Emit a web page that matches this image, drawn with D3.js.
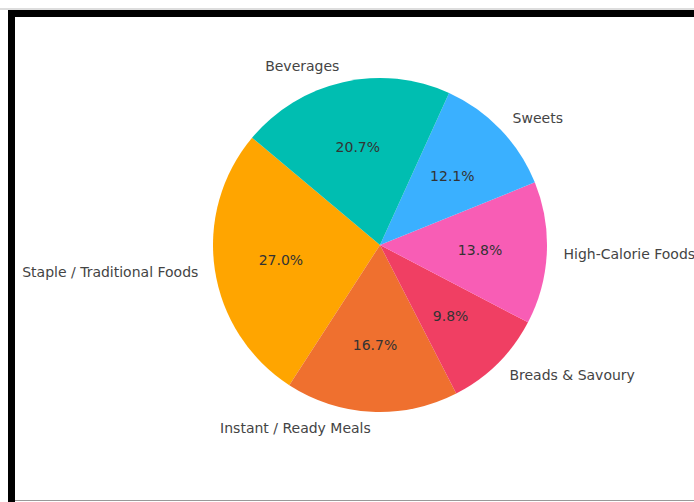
<!DOCTYPE html>
<html>
<head>
<meta charset="utf-8">
<script src="https://cdn.jsdelivr.net/npm/d3@7"></script>
<style>
  html, body { margin: 0; padding: 0; background: #fff; }
  svg { display: block; }
</style>
</head>
<body>
<div id="chart"></div>
<script>
// Data
const categories = ["Staple / Traditional Foods", "Instant / Ready Meals", "Breads & Savoury",
    "High-Calorie Foods", "Sweets", "Beverages"];
const shares = [27.0, 16.7, 9.8, 13.8, 12.1, 20.7];
const sliceColors = ["#FFA500", "#EF702F", "#F03F63", "#F85DB5", "#3AB0FF", "#00BEB1"];

const width = 694, height = 502;
const cx = 380, cy = 245, radius = 167;
const startDeg = 140; // matplotlib-style start angle, counterclockwise

const svg = d3.select("#chart").append("svg")
    .attr("width", width)
    .attr("height", height)
    .attr("font-family", "DejaVu Sans");

// Frame (black border top/left, thin grey lines)
svg.append("rect").attr("x", 0).attr("y", 0).attr("width", width).attr("height", height).attr("fill", "#fff");
svg.append("line").attr("x1", 0).attr("x2", width).attr("y1", 9).attr("y2", 9)
    .attr("stroke", "#bbb").attr("stroke-width", 1);
svg.append("rect").attr("x", 8).attr("y", 10).attr("width", width - 8).attr("height", 7).attr("fill", "#000");
svg.append("rect").attr("x", 8).attr("y", 10).attr("width", 7).attr("height", height - 10).attr("fill", "#000");
svg.append("line").attr("x1", 15).attr("x2", width).attr("y1", 500.5).attr("y2", 500.5)
    .attr("stroke", "#999").attr("stroke-width", 1);

const rad = Math.PI / 180;
const a0 = (90 - startDeg) * rad;
const pie = d3.pie().sort(null).value(d => d)
    .startAngle(a0)
    .endAngle(a0 - 2 * Math.PI);

const arcs = pie(shares);
const arc = d3.arc().innerRadius(0).outerRadius(radius);

const g = svg.append("g").attr("transform", `translate(${cx},${cy})`);

g.selectAll("path.slice")
    .data(arcs)
    .join("path")
    .attr("class", "slice")
    .attr("d", arc)
    .attr("fill", (d, i) => sliceColors[i]);

// percentage labels at 0.6 of the radius
g.selectAll("text.pct")
    .data(arcs)
    .join("text")
    .attr("class", "pct")
    .attr("transform", d => {
        const m = (d.startAngle + d.endAngle) / 2;
        return `translate(${Math.sin(m) * radius * 0.6},${-Math.cos(m) * radius * 0.6})`;
    })
    .attr("text-anchor", "middle")
    .attr("dominant-baseline", "central")
    .attr("font-size", 14)
    .attr("fill", "#333")
    .text(d => d.data.toFixed(1) + "%");

// category labels at 1.1 of the radius
g.selectAll("text.label")
    .data(arcs)
    .join("text")
    .attr("class", "label")
    .each(function (d, i) {
        const m = (d.startAngle + d.endAngle) / 2;
        const x = Math.sin(m) * radius * 1.1;
        const y = -Math.cos(m) * radius * 1.1;
        d3.select(this)
            .attr("x", x)
            .attr("y", y)
            .attr("text-anchor", x < 0 ? "end" : "start");
    })
    .attr("dominant-baseline", "central")
    .attr("font-size", 14)
    .attr("fill", "#444")
    .text((d, i) => categories[i]);
</script>
</body>
</html>
